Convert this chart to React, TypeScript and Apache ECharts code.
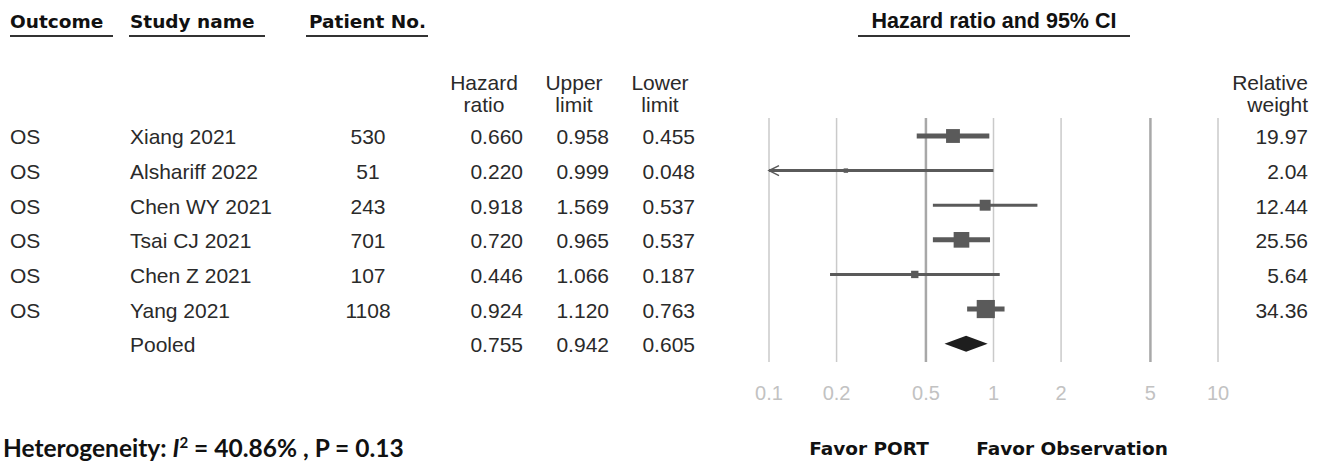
import React, { useEffect, useRef } from "react";
import * as echarts from "echarts";

const outcomes = ["OS", "OS", "OS", "OS", "OS", "OS", ""];
const studyNames = ["Xiang 2021", "Alshariff 2022", "Chen WY 2021", "Tsai CJ 2021", "Chen Z 2021", "Yang 2021", "Pooled"];
const patientNos = ["530", "51", "243", "701", "107", "1108", ""];
const hazardRatios = [0.66, 0.22, 0.918, 0.72, 0.446, 0.924, 0.755];
const upperLimits = [0.958, 0.999, 1.569, 0.965, 1.066, 1.12, 0.942];
const lowerLimits = [0.455, 0.048, 0.537, 0.537, 0.187, 0.763, 0.605];
const relativeWeights = [19.97, 2.04, 12.44, 25.56, 5.64, 34.36];
const axisTicks = [0.1, 0.2, 0.5, 1, 2, 5, 10];
const tickLabels = ["0.1", "0.2", "0.5", "1", "2", "5", "10"];
const strongTicks = [0.5, 5];
const heterogeneityI2 = "40.86%";
const heterogeneityP = "0.13";

const Y_MIN = -0.52;
const Y_MAX = 6.53;
const X_MIN = 0.1;
const X_MAX = 10;

const BODY_FONT = "'Liberation Sans', Arial, sans-serif";
const HEAD_FONT = "'DejaVu Sans', Verdana, sans-serif";
const NOTE_FONT = "Lato, 'Open Sans', sans-serif";
const TEXT_COLOR = "#2a2a2a";
const MARK_COLOR = "#5a5a5a";

export default function App() {
  const ref = useRef<HTMLDivElement>(null);
  useEffect(() => {
    document.body.style.margin = "0";
    const chart = echarts.init(ref.current!, null, { renderer: "svg" });
    const nStudies = relativeWeights.length;
    const pooledIdx = studyNames.length - 1;

    const studyData = relativeWeights.map((w, i) => [i, hazardRatios[i], lowerLimits[i], upperLimits[i], w]);
    const pooledData = [[pooledIdx, hazardRatios[pooledIdx], lowerLimits[pooledIdx], upperLimits[pooledIdx]]];
    const tableData = studyNames.map((_, i) => [i, 1]);
    const tickData = axisTicks.map((v) => [v, Y_MAX]);

    const txt = (x: number, y: number, text: string, align: string, extra: any = {}) => ({
      type: "text",
      x,
      y,
      style: {
        text,
        align,
        verticalAlign: "middle",
        fontFamily: BODY_FONT,
        fontSize: 21,
        fill: TEXT_COLOR,
        ...extra,
      },
    });
    const head = { fontFamily: HEAD_FONT, fontWeight: "bold", fontSize: 18.5, fill: "#111" };

    const option: any = {
      animation: false,
      grid: { left: 769, width: 449, top: 118, height: 244 },
      xAxis: {
        type: "log",
        logBase: 10,
        min: X_MIN,
        max: X_MAX,
        show: false,
      },
      yAxis: {
        type: "value",
        inverse: true,
        min: Y_MIN,
        max: Y_MAX,
        show: false,
      },
      series: [
        {
          type: "custom",
          name: "grid",
          clip: false,
          z: 1,
          data: tickData,
          encode: { x: 0, y: 1 },
          renderItem: (params: any, api: any) => {
            const v = api.value(0);
            const top = api.coord([v, Y_MIN]);
            const bot = api.coord([v, Y_MAX]);
            const strong = strongTicks.indexOf(v) >= 0;
            return {
              type: "group",
              children: [
                {
                  type: "line",
                  shape: { x1: top[0], y1: top[1], x2: bot[0], y2: bot[1] },
                  style: { stroke: strong ? "#a8a8a8" : "#cacaca", lineWidth: strong ? 2.5 : 1.5 },
                },
                {
                  type: "text",
                  x: bot[0],
                  y: bot[1] + 31,
                  style: {
                    text: tickLabels[params.dataIndex],
                    align: "center",
                    verticalAlign: "middle",
                    fontFamily: BODY_FONT,
                    fontSize: 20,
                    fill: "#c2c2c2",
                  },
                },
              ],
            };
          },
        },
        {
          type: "custom",
          name: "studies",
          clip: false,
          z: 3,
          data: studyData,
          encode: { x: [1, 2, 3], y: 0 },
          renderItem: (params: any, api: any) => {
            const i = api.value(0);
            const est = api.value(1);
            const lo = api.value(2);
            const hi = api.value(3);
            const w = api.value(4);
            const clipped = lo < X_MIN;
            const pe = api.coord([est, i]);
            const pl = api.coord([Math.max(lo, X_MIN), i]);
            const ph = api.coord([Math.min(hi, X_MAX), i]);
            const side = 3.1 * Math.sqrt(w);
            const lw = w > 15 ? 5 : 3;
            const children: any[] = [
              {
                type: "line",
                shape: { x1: pl[0], y1: pl[1], x2: ph[0], y2: ph[1] },
                style: { stroke: MARK_COLOR, lineWidth: lw },
              },
              {
                type: "rect",
                shape: { x: pe[0] - side / 2, y: pe[1] - side / 2, width: side, height: side },
                style: { fill: MARK_COLOR },
              },
            ];
            if (clipped) {
              children.push({
                type: "polyline",
                shape: { points: [[pl[0] + 10, pl[1] - 5], [pl[0], pl[1]], [pl[0] + 10, pl[1] + 5]] },
                style: { stroke: MARK_COLOR, lineWidth: 1.5, fill: "none" },
              });
            }
            return { type: "group", children };
          },
        },
        {
          type: "custom",
          name: "pooled",
          clip: false,
          z: 3,
          data: pooledData,
          encode: { x: [1, 2, 3], y: 0 },
          renderItem: (params: any, api: any) => {
            const i = api.value(0);
            const pe = api.coord([api.value(1), i]);
            const pl = api.coord([api.value(2), i]);
            const ph = api.coord([api.value(3), i]);
            const h = 8;
            return {
              type: "polygon",
              shape: {
                points: [
                  [pl[0], pl[1]],
                  [pe[0], pe[1] - h],
                  [ph[0], ph[1]],
                  [pe[0], pe[1] + h],
                ],
              },
              style: { fill: "#1e1e1e" },
            };
          },
        },
        {
          type: "custom",
          name: "table",
          clip: false,
          z: 4,
          data: tableData,
          encode: { x: 1, y: 0 },
          renderItem: (params: any, api: any) => {
            const i = api.value(0);
            const y = api.coord([1, i])[1] + 1;
            const children: any[] = [
              txt(10, y, outcomes[i], "left"),
              txt(130, y, studyNames[i], "left"),
              txt(368, y, patientNos[i], "center"),
              txt(523, y, hazardRatios[i].toFixed(3), "right"),
              txt(609, y, upperLimits[i].toFixed(3), "right"),
              txt(695, y, lowerLimits[i].toFixed(3), "right"),
            ];
            if (i < nStudies) children.push(txt(1308, y, relativeWeights[i].toFixed(2), "right"));
            return { type: "group", children };
          },
        },
      ],
      graphic: [
        txt(10, 21, "Outcome", "left", head),
        txt(130, 21, "Study name", "left", head),
        txt(309, 21, "Patient No.", "left", head),
        txt(994, 21, "Hazard ratio and 95% CI", "center", { fontWeight: "bold", fontSize: 21.5, fill: "#111" }),
        { type: "line", shape: { x1: 10, y1: 36, x2: 113, y2: 36 }, style: { stroke: "#333", lineWidth: 2 } },
        { type: "line", shape: { x1: 129, y1: 36, x2: 265, y2: 36 }, style: { stroke: "#333", lineWidth: 2 } },
        { type: "line", shape: { x1: 306, y1: 36, x2: 428, y2: 36 }, style: { stroke: "#333", lineWidth: 2 } },
        { type: "line", shape: { x1: 858, y1: 36, x2: 1130, y2: 36 }, style: { stroke: "#333", lineWidth: 2 } },
        txt(484, 82, "Hazard", "center"),
        txt(484, 104, "ratio", "center"),
        txt(574, 82, "Upper", "center"),
        txt(574, 104, "limit", "center"),
        txt(660, 82, "Lower", "center"),
        txt(660, 104, "limit", "center"),
        txt(1308, 82, "Relative", "right"),
        txt(1308, 104, "weight", "right"),
        txt(869, 448, "Favor PORT", "center", head),
        txt(1072, 448, "Favor Observation", "center", head),
        {
          type: "text",
          x: 3,
          y: 447,
          style: {
            text: `{b|Heterogeneity: }{i|I}{s|2}{b| = ${heterogeneityI2} , P = ${heterogeneityP}}`,
            align: "left",
            verticalAlign: "middle",
            rich: {
              b: { fontFamily: NOTE_FONT, fontWeight: "bold", fontSize: 24.5, fill: "#111" },
              i: { fontFamily: NOTE_FONT, fontWeight: "bold", fontStyle: "italic", fontSize: 24.5, fill: "#111" },
              s: { fontFamily: NOTE_FONT, fontWeight: "bold", fontSize: 15, fill: "#111", verticalAlign: "top", padding: [0, 0, 11, 0] },
            },
          },
        },
      ],
    };
    chart.setOption(option);
    return () => chart.dispose();
  }, []);
  return <div ref={ref} style={{ width: 1317, height: 462 }} />;
}
